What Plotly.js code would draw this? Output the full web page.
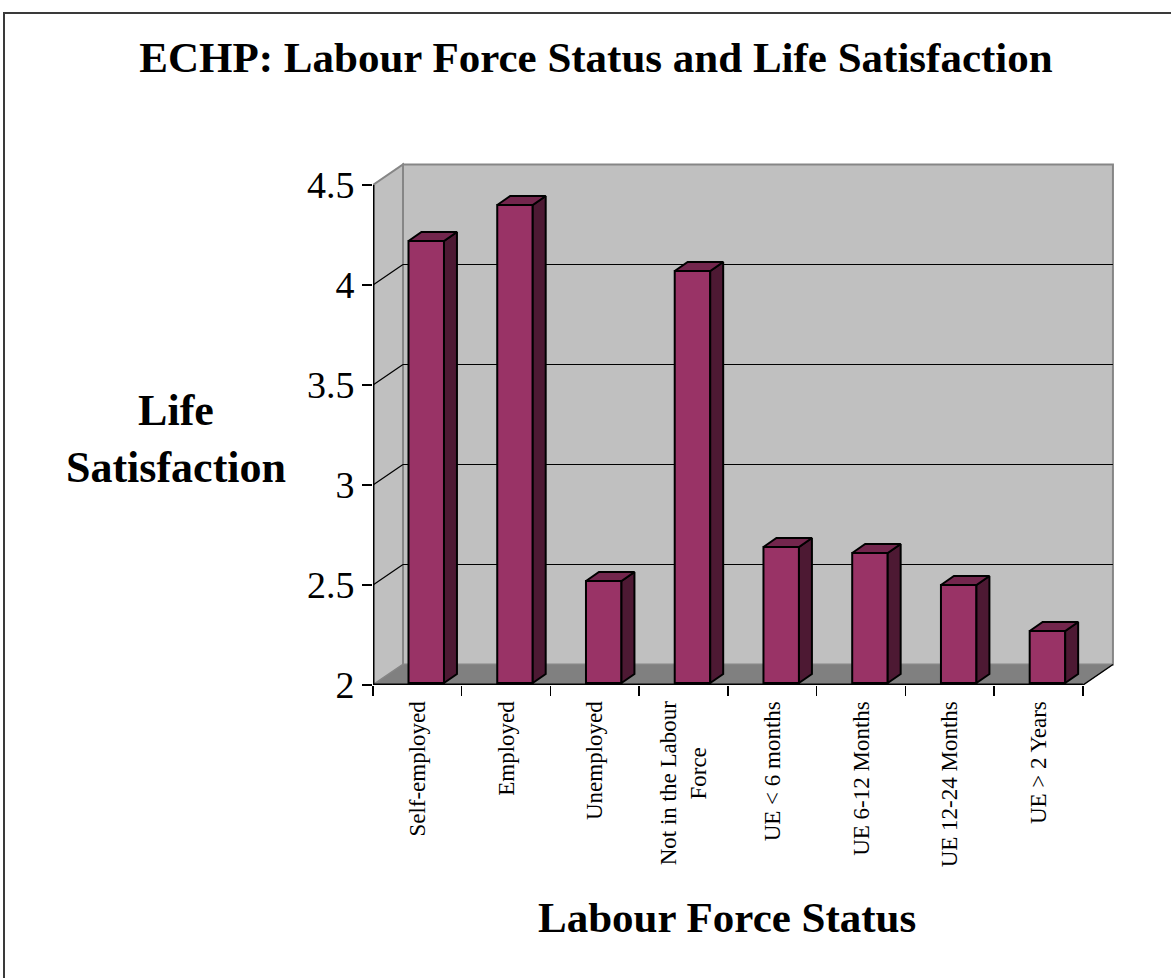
<!DOCTYPE html>
<html>
<head>
<meta charset="utf-8">
<script src="https://cdn.plot.ly/plotly-3.0.1.min.js"></script>
<style>
  html, body { margin: 0; padding: 0; background: #ffffff; overflow: hidden; }
  #wrap { position: relative; width: 1171px; height: 978px; }
  #chart { position: absolute; left: 0; top: 0; width: 1171px; height: 978px; }
  #frame { position: absolute; left: 3px; top: 12px; width: 1200px; height: 1000px;
           border-left: 2px solid #3a3a3a; border-top: 2px solid #3a3a3a; pointer-events: none; }
</style>
</head>
<body>
<div id="wrap">
  <div id="chart"></div>
  <div id="frame"></div>
</div>
<script>
// ---------------- data ----------------
const categories = [
  'Self-employed',
  'Employed',
  'Unemployed',
  'Not in the Labour<br>Force\u00a0\u00a0\u00a0\u00a0\u00a0\u00a0\u00a0\u00a0',
  'UE < 6 months',
  'UE 6-12 Months',
  'UE 12-24 Months',
  'UE > 2 Years'
];
const lifeSatisfaction = [4.21, 4.39, 2.51, 4.06, 2.68, 2.65, 2.49, 2.26];
const yTickValues = [2, 2.5, 3, 3.5, 4, 4.5];
const yTickLabels = ['2', '2.5', '3', '3.5', '4', '4.5'];

const chartTitle = 'ECHP: Labour Force Status and Life Satisfaction';
const xTitle = 'Labour Force Status';
const yTitle = 'Life<br>Satisfaction';

// ---------------- geometry (pseudo-3D projection) ----------------
const W = 1171, H = 978;
const N = categories.length;
const yMin = yTickValues[0];
const yMax = yTickValues[yTickValues.length - 1];
const X0 = -0.5, X1 = N - 0.5;         // front plane category extent
const DX = 0.338, DY = 0.1025;         // wall depth offset (data units)
const FX = 0.1, FY = 0.01;             // bar front-face offset
const BW = 0.4;                        // bar width
const BDX = 0.146, BDY = 0.045;        // bar depth offset
const xRange = [X0, 7.85];
const yRange = [yMin, 4.625];

const margin = { l: 373, r: 57, t: 160, b: 293 };
const plotW = W - margin.l - margin.r;
const plotH = H - margin.t - margin.b;
const px2paperX = px => (px - margin.l) / plotW;
const py2paperY = py => (H - margin.b - py) / plotH;

const FONT = 'Liberation Serif, Times New Roman, serif';
const wallFill = '#c0c0c0', floorFill = '#808080', wallLine = '#868686';

// bar side and top faces
const sideX = [], sideY = [], topX = [], topY = [];
lifeSatisfaction.forEach((v, i) => {
  const xl = i + FX - BW / 2, xr = i + FX + BW / 2;
  const b = yMin + FY, t = v + FY;
  sideX.push(xr, xr + BDX, xr + BDX, xr, xr, null);
  sideY.push(b, b + BDY, t + BDY, t, b, null);
  topX.push(xl, xl + BDX, xr + BDX, xr, xl, null);
  topY.push(t, t + BDY, t + BDY, t, t, null);
});

const traces = [
  {
    type: 'bar',
    name: 'Life Satisfaction',
    x: lifeSatisfaction.map((v, i) => i + FX),
    y: lifeSatisfaction.map(v => v - yMin),
    base: yMin + FY,
    width: BW,
    marker: { color: '#993366', line: { color: '#000000', width: 2 } },
    hovertemplate: '%{customdata}: %{text}<extra></extra>',
    customdata: categories,
    text: lifeSatisfaction.map(String),
    textposition: 'none',
    showlegend: false
  },
  {
    type: 'scatter', mode: 'lines', xaxis: 'x2', yaxis: 'y',
    x: sideX, y: sideY, fill: 'toself', fillcolor: '#4d1933',
    line: { color: '#000000', width: 2 }, hoverinfo: 'skip', showlegend: false
  },
  {
    type: 'scatter', mode: 'lines', xaxis: 'x2', yaxis: 'y',
    x: topX, y: topY, fill: 'toself', fillcolor: '#73264d',
    line: { color: '#000000', width: 2 }, hoverinfo: 'skip', showlegend: false
  }
];

// walls, floor, gridlines
const shapes = [];
// back wall
shapes.push({ type: 'rect', xref: 'x', yref: 'y', layer: 'below',
  x0: X0 + DX, x1: X1 + DX, y0: yMin + DY, y1: yMax + DY,
  fillcolor: wallFill, line: { color: wallLine, width: 2 } });
// left side wall
shapes.push({ type: 'path', xref: 'x', yref: 'y', layer: 'below',
  path: `M ${X0},${yMin} L ${X0},${yMax} L ${X0 + DX},${yMax + DY} L ${X0 + DX},${yMin + DY} Z`,
  fillcolor: wallFill, line: { color: wallLine, width: 2 } });
// gridlines (interior ticks)
yTickValues.slice(1, -1).forEach(v => {
  shapes.push({ type: 'line', xref: 'x', yref: 'y', layer: 'below',
    x0: X0 + DX, x1: X1 + DX, y0: v + DY, y1: v + DY, line: { color: '#000000', width: 1 } });
  shapes.push({ type: 'line', xref: 'x', yref: 'y', layer: 'below',
    x0: X0, x1: X0 + DX, y0: v, y1: v + DY, line: { color: '#000000', width: 1.2 } });
});
// floor
shapes.push({ type: 'path', xref: 'x', yref: 'y', layer: 'below',
  path: `M ${X0},${yMin} L ${X0 + DX},${yMin + DY} L ${X1 + DX},${yMin + DY} L ${X1},${yMin} Z`,
  fillcolor: floorFill, line: { color: wallLine, width: 1 } });
// front axis lines
shapes.push({ type: 'line', xref: 'x', yref: 'y', layer: 'below',
  x0: X0, x1: X0, y0: yMin, y1: yMax, line: { color: '#000000', width: 3 } });
shapes.push({ type: 'line', xref: 'x', yref: 'y', layer: 'below',
  x0: X0, x1: X1, y0: yMin, y1: yMin, line: { color: '#000000', width: 3 } });
shapes.push({ type: 'line', xref: 'x', yref: 'y', layer: 'below',
  x0: X1, x1: X1 + DX, y0: yMin, y1: yMin + DY, line: { color: '#000000', width: 1.5 } });

const boundaries = [];
for (let i = 0; i <= N; i++) boundaries.push(i - 0.5);

const layout = {
  width: W, height: H,
  margin: margin,
  paper_bgcolor: 'rgba(0,0,0,0)',
  plot_bgcolor: 'rgba(0,0,0,0)',
  showlegend: false,
  bargap: 0,
  title: {
    text: chartTitle,
    font: { family: FONT, size: 43, weight: 'bold', color: '#000000' },
    xref: 'container', yref: 'container',
    x: 596 / W, xanchor: 'center',
    y: 1 - 57 / H, yanchor: 'middle'
  },
  xaxis: {
    type: 'linear', range: xRange, fixedrange: true,
    tickmode: 'array', tickvals: categories.map((c, i) => i), ticktext: categories,
    tickangle: -90, ticks: 'outside', ticklen: 6, tickcolor: 'rgba(0,0,0,0)',
    tickfont: { family: FONT, size: 23, color: '#000000' },
    showgrid: false, zeroline: false, showline: false
  },
  xaxis2: {
    type: 'linear', range: xRange, overlaying: 'x', anchor: 'y', side: 'bottom', fixedrange: true,
    tickmode: 'array', tickvals: boundaries, ticks: 'outside', ticklen: 10, tickwidth: 1.5,
    tickcolor: '#000000', showticklabels: false,
    showgrid: false, zeroline: false, showline: false
  },
  yaxis: {
    type: 'linear', range: yRange, fixedrange: true,
    tickmode: 'array', tickvals: yTickValues, ticktext: yTickLabels,
    ticks: 'outside', ticklen: 10, tickwidth: 1.5, tickcolor: '#000000',
    tickfont: { family: FONT, size: 38, color: '#000000' },
    showgrid: false, zeroline: false, showline: false
  },
  shapes: shapes,
  annotations: [
    {
      text: yTitle, xref: 'paper', yref: 'paper',
      x: px2paperX(176), y: py2paperY(439), xanchor: 'center', yanchor: 'middle',
      showarrow: false, align: 'center',
      font: { family: FONT, size: 44, weight: 'bold', color: '#000000' }
    },
    {
      text: xTitle, xref: 'paper', yref: 'paper',
      x: px2paperX(727), y: py2paperY(917), xanchor: 'center', yanchor: 'middle',
      showarrow: false,
      font: { family: FONT, size: 43, weight: 'bold', color: '#000000' }
    }
  ]
};

Plotly.newPlot('chart', traces, layout, { staticPlot: true, displayModeBar: false });
</script>
</body>
</html>
